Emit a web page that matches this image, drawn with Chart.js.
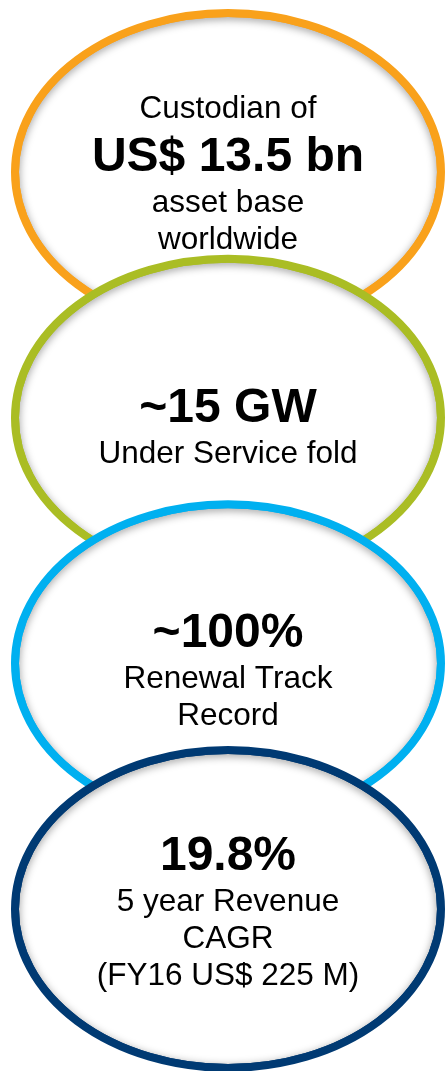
<!DOCTYPE html>
<html>
<head>
<meta charset="utf-8">
<script src="https://cdn.jsdelivr.net/npm/chart.js@4.4.0/dist/chart.umd.min.js"></script>
<style>
  html, body { margin: 0; padding: 0; background: #ffffff; }
  #wrap { position: relative; width: 446px; height: 1071px; }
</style>
</head>
<body>
<div id="wrap"><canvas id="c" width="446" height="1071"></canvas></div>
<script>
// ---- data ----
const stages = [1, 2, 3, 4];
const leadLines = ['Custodian of', '', '', ''];
const headlines = ['US$ 13.5 bn', '~15 GW', '~100%', '19.8%'];
const detailLines = [
  ['asset base', 'worldwide'],
  ['Under Service fold'],
  ['Renewal Track', 'Record'],
  ['5 year Revenue', 'CAGR', '(FY16 US$ 225 M)']
];
const ringColors = ['#F9A11B', '#AABD24', '#00B0F0', '#003A73'];

const FONT = "'Liberation Sans', Arial, 'Helvetica', sans-serif";

const ringPlugin = {
  id: 'rings',
  afterDatasetsDraw(chart, args, opts) {
    const ctx = chart.ctx;
    const meta = chart.getDatasetMeta(0);
    meta.data.forEach((pt, i) => {
      const cx = pt.x, cy = pt.y;
      const rx = opts.rx, ry = opts.ry, lw = opts.lineWidth;
      ctx.save();
      // white body
      ctx.beginPath();
      ctx.ellipse(cx, cy, rx, ry, 0, 0, Math.PI * 2);
      ctx.fillStyle = '#ffffff';
      ctx.fill();
      // inner shadow
      ctx.save();
      ctx.clip();
      ctx.shadowColor = 'rgba(0,0,0,0.40)';
      ctx.shadowBlur = 9;
      ctx.shadowOffsetY = 2;
      ctx.lineWidth = lw;
      ctx.strokeStyle = ringColors[i];
      ctx.stroke();
      ctx.restore();
      // ring
      ctx.beginPath();
      ctx.ellipse(cx, cy, rx, ry, 0, 0, Math.PI * 2);
      ctx.lineWidth = lw;
      ctx.strokeStyle = ringColors[i];
      ctx.stroke();

      // text block
      const lines = [];
      if (leadLines[i]) lines.push({ t: leadLines[i], bold: false });
      lines.push({ t: headlines[i], bold: true });
      detailLines[i].forEach(t => lines.push({ t, bold: false }));
      let y = 0; const bases = [];
      lines.forEach((ln, k) => {
        if (k > 0) {
          const prev = lines[k - 1];
          if (ln.bold) y += 53; else if (prev.bold) y += 41; else y += 37;
        }
        bases.push(y);
      });
      const top = bases[0] - (lines[0].bold ? 34 : 22);
      const bottom = bases[bases.length - 1];
      const shift = cy + opts.textOffsets[i] - (top + bottom) / 2;
      ctx.fillStyle = '#000000';
      ctx.textAlign = 'center';
      ctx.textBaseline = 'alphabetic';
      lines.forEach((ln, k) => {
        ctx.font = (ln.bold ? 'bold 48px ' : '31.5px ') + FONT;
        ctx.fillText(ln.t, cx, bases[k] + shift);
      });
      ctx.restore();
    });
  }
};

new Chart(document.getElementById('c'), {
  type: 'scatter',
  data: {
    datasets: [{
      data: stages.map(s => ({ x: 0, y: s })),
      pointRadius: 0,
      pointHoverRadius: 0
    }]
  },
  options: {
    responsive: false,
    animation: false,
    events: [],
    layout: { padding: 0 },
    plugins: {
      legend: { display: false },
      tooltip: { enabled: false },
      rings: { rx: 213, ry: 159, lineWidth: 8, textOffsets: [0, 8, 6, 2] }
    },
    scales: {
      x: { type: 'linear', display: false, min: -1.0224, max: 0.9776 },
      y: { type: 'linear', display: false, reverse: true, min: 0.2993, max: 4.6600 }
    }
  },
  plugins: [ringPlugin]
});
</script>
</body>
</html>
